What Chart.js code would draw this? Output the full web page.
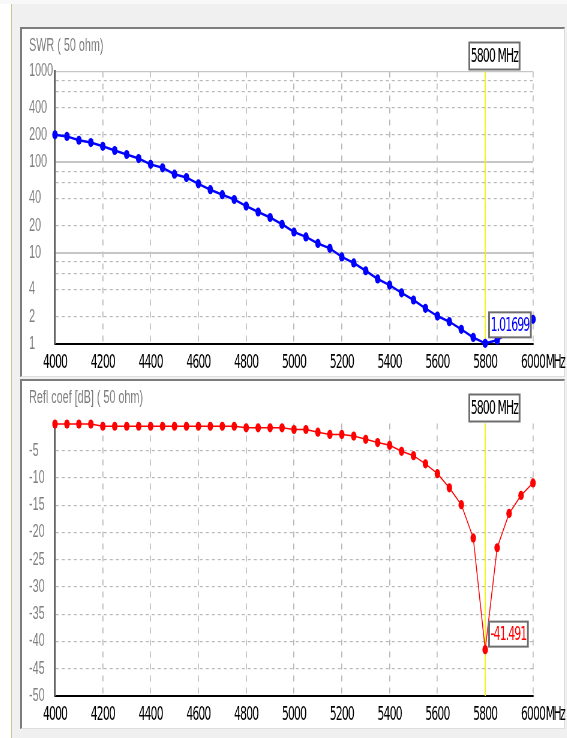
<html>
<head>
<title>SWR / Refl coef</title>
<meta charset="utf-8" />
<script src="https://cdn.jsdelivr.net/npm/chart.js"></script>
<style>
  body { margin: 0; width: 567px; height: 738px; background: #f0f0f0; position: relative; overflow: hidden; }
  div.topline { position: absolute; left: 0; top: 0; width: 567px; height: 4px; background: #f8f8f8; }
  div.strip { position: absolute; left: 0; top: 4px; width: 11px; height: 734px; background: #fff; border-right: 1px solid #c8c890; }
  div.panel { position: absolute; left: 20px; width: 545px; height: 350px; box-sizing: border-box; background: #fff;
              border-top: 2px solid #7d7d7d; border-left: 2px solid #7d7d7d;
              border-right: 1px solid #dedede; border-bottom: 1px solid #dedede; }
  canvas { position: absolute; left: 0; top: 0; transform: scaleX(0.6); transform-origin: 0 0; }
</style>
</head>
<body>
<div class="topline"></div>
<div class="strip"></div>
<div class="panel" style="top:27px"><canvas id="chartSwr" width="908" height="347"></canvas></div>
<div class="panel" style="top:379px"><canvas id="chartRefl" width="908" height="347"></canvas></div>
<script>
// sweep frequencies (MHz)
const freqs = [4000, 4050, 4100, 4150, 4200, 4250, 4300, 4350, 4400, 4450,
               4500, 4550, 4600, 4650, 4700, 4750, 4800, 4850, 4900, 4950,
               5000, 5050, 5100, 5150, 5200, 5250, 5300, 5350, 5400, 5450,
               5500, 5550, 5600, 5650, 5700, 5750, 5800, 5850, 5900, 5950, 6000];
// SWR (50 ohm)
const swr = [201, 193, 175, 165, 150, 135, 122, 110, 95, 87,
             74, 68, 58, 50, 44, 39, 33, 28.4, 24.7, 20.8,
             17.1, 15.1, 12.8, 11.3, 9.1, 7.8, 6.4, 5.2, 4.45, 3.66,
             3.05, 2.47, 2.03, 1.76, 1.45, 1.18, 1.01699, 1.1, 1.35, 1.56, 1.87];
// reflection coefficient (dB)
const reflDb = [-0.1, -0.1, -0.1, -0.1, -0.5, -0.5, -0.5, -0.5, -0.5, -0.5,
                -0.5, -0.5, -0.5, -0.5, -0.5, -0.5, -0.8, -0.8, -0.8, -0.8,
                -1.1, -1.1, -1.6, -2.0, -2.0, -2.3, -2.9, -3.5, -4.0, -5.1,
                -5.9, -7.4, -9.2, -11.8, -14.9, -21.0, -41.491, -22.8, -16.5, -13.2, -10.9];

const xTicks = [4000, 4200, 4400, 4600, 4800, 5000, 5200, 5400, 5600, 5800, 6000];
const swrTicks = [1, 2, 4, 6, 8, 10, 20, 40, 60, 80, 100, 200, 400, 600, 800, 1000];
const swrLabels = [1, 2, 4, 10, 20, 40, 100, 200, 400, 1000];
const reflTicks = [-50, -45, -40, -35, -30, -25, -20, -15, -10, -5, 0];

const markerFreq = 5800;
const swrMarker = 1.01699;
const reflMarker = -41.491;

const REG = "'Liberation Sans', Arial, sans-serif";
const NARROW = "'DejaVu Sans Condensed', 'DejaVu Sans', sans-serif";
const TIGHT = '-1.4px';   // squeeze the x labels and marker texts a bit more
const NONE = 'rgba(0,0,0,0)';

// yellow marker line, marker boxes and the MHz unit
const markerPlugin = {
  id: 'marker',
  beforeDatasetsDraw(chart) {
    const ctx = chart.ctx, area = chart.chartArea;
    const x = chart.scales.x.getPixelForValue(markerFreq);
    ctx.save();
    ctx.strokeStyle = '#f5f500';
    ctx.lineWidth = 1.8;
    ctx.beginPath();
    ctx.moveTo(x, area.top);
    ctx.lineTo(x, area.bottom);
    ctx.stroke();
    ctx.restore();
  },
  afterDatasetsDraw(chart, args, opts) {
    const ctx = chart.ctx, area = chart.chartArea;
    const xs = chart.scales.x;
    const x = xs.getPixelForValue(markerFreq);
    ctx.save();
    ctx.letterSpacing = TIGHT;
    ctx.font = '20px ' + NARROW;
    ctx.textBaseline = 'middle';
    ctx.textAlign = 'left';

    let t = markerFreq + ' MHz';
    let w = ctx.measureText(t).width + 8;
    drawBox(ctx, x - 28, area.top - 30, w, 29, t, '#000');

    const py = chart.scales.y.getPixelForValue(opts.value);
    t = opts.label;
    w = ctx.measureText(t).width + 8;
    drawBox(ctx, x + 5, py + opts.dy, w, 27, t, opts.color);

    // unit after the last x label
    const x6000 = xs.getPixelForValue(6000);
    const w6000 = ctx.measureText('6000').width;
    ctx.letterSpacing = '-2.5px';
    ctx.fillStyle = '#000';
    ctx.fillText('MHz', x6000 + w6000 / 2 + 1, xs.top + 18.5);
    ctx.restore();
    // x tick labels (z: 1) are drawn right after this hook
    ctx.letterSpacing = TIGHT;
  },
  afterDraw(chart) {
    chart.ctx.letterSpacing = '0px';
  }
};

function drawBox(ctx, x, y, w, h, text, color) {
  ctx.fillStyle = '#6e6e6e';
  ctx.fillRect(x, y, w, h);
  ctx.fillStyle = '#fff';
  ctx.fillRect(x + 3, y + 2, w - 6, h - 4);
  ctx.fillStyle = color;
  ctx.fillText(text, x + 4, y + h / 2 + 1);
}

function xScale() {
  return {
    type: 'linear', min: 4000, max: 6000,
    afterBuildTicks: s => { s.ticks = xTicks.map(v => ({ value: v })); },
    afterFit: s => { s.height = 32; },
    grid: {
      drawTicks: false,
      color: c => (c.tick && c.tick.value === 4000) ? NONE : '#b9b9b9',
      lineWidth: 1.7
    },
    border: { color: '#000', width: 2, dash: [6, 6] },
    ticks: {
      z: 1, autoSkip: false, maxRotation: 0, padding: 6.5, color: '#000',
      font: { family: NARROW, size: 20, lineHeight: 1.2 },
      callback: v => String(v)
    }
  };
}

function titleOpts(text) {
  return {
    display: true, text: text, align: 'start', color: '#808080',
    font: { family: REG, size: 18, weight: 'normal', lineHeight: 1.2 },
    padding: { top: 0, bottom: 14.2 }
  };
}

const layoutOpts = { padding: { top: 6.7, left: 11.67, right: 56.33, bottom: 0 } };

function pts(ys) {
  return freqs.map((f, i) => ({ x: f, y: ys[i] }));
}

new Chart(document.getElementById('chartSwr'), {
  type: 'line',
  data: {
    datasets: [{
      data: pts(swr),
      borderColor: '#0000ff', backgroundColor: '#0000ff',
      borderWidth: 2.5, pointRadius: 4.6, pointBorderWidth: 0,
      pointBackgroundColor: '#0000ff', tension: 0, clip: false
    }]
  },
  options: {
    responsive: false, animation: false,
    layout: layoutOpts,
    plugins: {
      legend: { display: false },
      tooltip: { enabled: false },
      title: titleOpts('SWR ( 50 ohm)'),
      marker: { value: swrMarker, label: '1.01699', color: '#0000ff', dy: -32 }
    },
    scales: {
      x: xScale(),
      y: {
        type: 'logarithmic', min: 1, max: 1000,
        afterBuildTicks: s => { s.ticks = swrTicks.map(v => ({ value: v })); },
        afterFit: s => { s.width = 43.33; },
        grid: {
          drawTicks: false,
          color: c => {
            if (!c.tick || c.tick.value === 1) return NONE;
            if ([10, 100, 1000].includes(c.tick.value)) return '#c6c6c6';
            return '#b9b9b9';
          },
          lineWidth: c => (c.tick && (c.tick.value === 10 || c.tick.value === 100)) ? 2 : 1.2
        },
        border: {
          color: '#666', width: 3.3,
          dash: c => (c.tick && [10, 100, 1000].includes(c.tick.value)) ? [] : [5, 5]
        },
        ticks: {
          autoSkip: false, crossAlign: 'far', padding: 0, color: '#808080',
          font: { family: REG, size: 18, lineHeight: 1.2 },
          callback: v => swrLabels.includes(v) ? String(v) : ''
        }
      }
    }
  },
  plugins: [markerPlugin]
});

new Chart(document.getElementById('chartRefl'), {
  type: 'line',
  data: {
    datasets: [{
      data: pts(reflDb),
      borderColor: '#ff0000', backgroundColor: '#ff0000',
      borderWidth: 1.5, pointRadius: 4.6, pointBorderWidth: 0,
      pointBackgroundColor: '#ff0000', tension: 0, clip: false
    }]
  },
  options: {
    responsive: false, animation: false,
    layout: layoutOpts,
    plugins: {
      legend: { display: false },
      tooltip: { enabled: false },
      title: titleOpts('Refl coef [dB] ( 50 ohm)'),
      marker: { value: reflMarker, label: '-41.491', color: '#ff0000', dy: -29 }
    },
    scales: {
      x: xScale(),
      y: {
        type: 'linear', min: -50, max: 0,
        afterBuildTicks: s => { s.ticks = reflTicks.map(v => ({ value: v })); },
        afterFit: s => { s.width = 43.33; },
        grid: {
          drawTicks: false,
          color: c => (!c.tick || c.tick.value === 0 || c.tick.value === -50) ? NONE : '#b9b9b9',
          lineWidth: 1.2
        },
        border: { color: '#666', width: 3.3, dash: [5, 5] },
        ticks: {
          autoSkip: false, crossAlign: 'far', padding: 0, color: '#808080',
          font: { family: REG, size: 18, lineHeight: 1.2 },
          callback: v => v === 0 ? '' : String(v)
        }
      }
    }
  },
  plugins: [markerPlugin]
});
</script>
</body>
</html>
